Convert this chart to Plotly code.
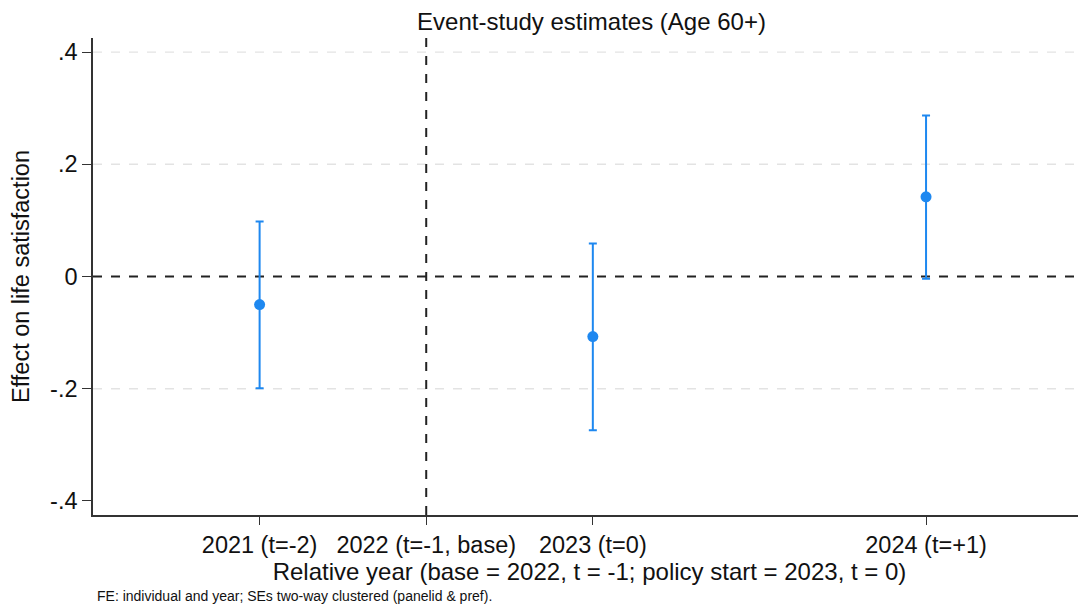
import plotly.graph_objects as go

# Data
tick_labels = ["2021 (t=-2)", "2022 (t=-1, base)", "2023 (t=0)", "2024 (t=+1)"]
tick_pos = [1, 2, 3, 5]
est_pos = [1, 3, 5]
estimates = [-0.050, -0.107, 0.142]
ci_low = [-0.199, -0.274, -0.004]
ci_high = [0.098, 0.059, 0.287]
base_pos = 2
y_ticks = [-0.4, -0.2, 0, 0.2, 0.4]
y_tick_text = ["-.4", "-.2", "0", ".2", ".4"]
grid_vals = [0.4, 0.2, -0.2]

FONT = "Liberation Sans, Arial, sans-serif"
BLUE = "#1E88F0"
TXT = "#111111"

fig = go.Figure()
fig.add_trace(go.Scatter(
    x=est_pos, y=estimates, mode="markers",
    marker=dict(color=BLUE, size=11),
    error_y=dict(type="data", symmetric=False,
                 array=[h - e for h, e in zip(ci_high, estimates)],
                 arrayminus=[e - l for l, e in zip(ci_low, estimates)],
                 color=BLUE, thickness=2, width=4),
    showlegend=False, hoverinfo="skip",
))

shapes = []
for g in grid_vals:
    shapes.append(dict(type="line", xref="paper", x0=0, x1=1, yref="y", y0=g, y1=g,
                       line=dict(color="#e3e3e3", width=1.3, dash="dash"), layer="below"))
shapes.append(dict(type="line", xref="paper", x0=0, x1=1, yref="y", y0=0, y1=0,
                   line=dict(color="#222222", width=2, dash="dash"), layer="below"))
shapes.append(dict(type="line", xref="x", x0=base_pos, x1=base_pos, yref="paper", y0=0, y1=1,
                   line=dict(color="#222222", width=2, dash="dash"), layer="below"))

fig.update_layout(
    width=1078, height=600,
    margin=dict(l=85, r=0, t=30, b=93),
    plot_bgcolor="white", paper_bgcolor="white",
    font=dict(family=FONT, color=TXT),
    title=dict(text="Event-study estimates (Age 60+)", x=0.5413, xanchor="center",
               y=0.977, yanchor="middle", font=dict(size=24, family=FONT, color=TXT)),
    shapes=shapes,
    xaxis=dict(range=[0, 5.96], tickvals=tick_pos, ticktext=tick_labels,
               showgrid=False, zeroline=False, showline=True, linecolor="#333333", linewidth=1.5,
               ticks="outside", ticklen=8, tickcolor="#333333", tickwidth=1.3,
               tickfont=dict(size=23.5, family=FONT, color=TXT),
               title=dict(text="Relative year (base = 2022, t = -1; policy start = 2023, t = 0)",
                          font=dict(size=24, family=FONT, color=TXT), standoff=3)),
    yaxis=dict(range=[-0.425, 0.425], tickvals=y_ticks, ticktext=y_tick_text,
               showgrid=False, zeroline=False, showline=True, linecolor="#333333", linewidth=1.5,
               ticks="outside", ticklen=9, tickcolor="#333333", tickwidth=1.3,
               tickfont=dict(size=23.5, family=FONT, color=TXT),
               title=dict(text="Effect on life satisfaction",
                          font=dict(size=23.5, family=FONT, color=TXT), standoff=18)),
    annotations=[dict(text="FE: individual and year; SEs two-way clustered (panelid &amp; pref).",
                      xref="paper", yref="paper", x=0.002, y=-0.170, xanchor="left", yanchor="middle",
                      showarrow=False, font=dict(size=14, family=FONT, color=TXT))],
)

fig.write_html("out.html")
